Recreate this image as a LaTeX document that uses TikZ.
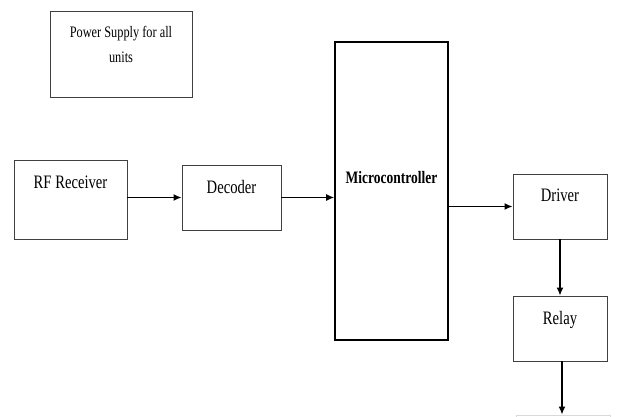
\documentclass[tikz,border=0pt]{standalone}
\usepackage{fontspec}
\setmainfont{Liberation Serif}[FakeStretch=0.77]
\usetikzlibrary{arrows.meta}

\begin{document}
\begin{tikzpicture}[
    x=1pt, y=1pt,
    block/.style={
      draw=black!75,
      line width=0.9pt,
      fill=white,
      inner sep=0pt,
      align=center,
      font=\fontsize{19}{22}\selectfont
    },
    link/.style={
      line width=1.4pt,
      -{Latex[length=8pt,width=7pt]}
    }
  ]
  \useasboundingbox (0,0) rectangle (619,-417);

  % Power supply
  \node[
    block,
    minimum width=142,
    text height=52, text depth=34,
    font=\fontsize{16}{25}\selectfont
  ] (power) at (121,-54) {Power Supply for all\\units};

  % Input side
  \node[
    block,
    minimum width=113,
    text height=29, text depth=50
  ] (rf) at (70.5,-199.5) {RF Receiver};

  \node[
    block,
    minimum width=99,
    text height=29, text depth=36
  ] (decoder) at (231.5,-197.5) {Decoder};

  % Microcontroller
  \node[
    block,
    draw=black,
    line width=1.6pt,
    minimum width=113,
    text height=142, text depth=156,
    font=\fontsize{17.5}{20}\selectfont\bfseries
  ] (micro) at (391.5,-191) {Microcontroller};

  % Output side
  \node[
    block,
    minimum width=94,
    text height=27, text depth=38
  ] (driver) at (560,-206.5) {Driver};

  \node[
    block,
    minimum width=94,
    text height=28, text depth=37
  ] (relay) at (560,-328.5) {Relay};

  % Next block, cut off at the bottom
  \node[
    block,
    draw=black!15,
    minimum width=94,
    minimum height=60
  ] (load) at (563,-445) {};

  % Connections
  \draw[link] (rf.east |- decoder.west) -- (decoder.west);
  \draw[link] (decoder.east) -- (decoder.east -| micro.west);
  \draw[link] (micro.east |- driver.west) -- (driver.west);
  \draw[link] (driver.south) -- (relay.north);
  \draw[link] ([xshift=2]relay.south) -- ([xshift=-1]load.north);
\end{tikzpicture}
\end{document}
